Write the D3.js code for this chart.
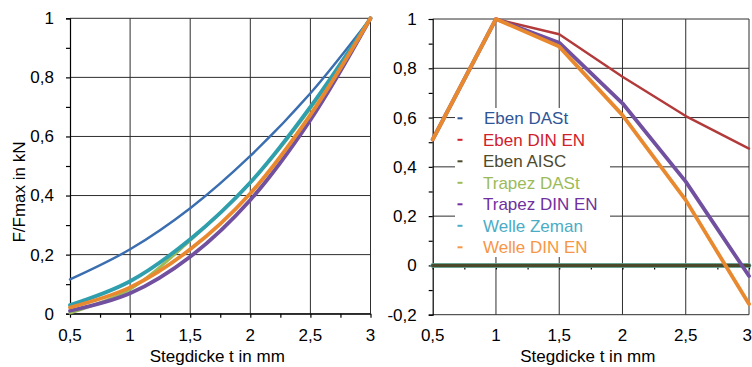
<!DOCTYPE html>
<html><head><meta charset="utf-8">
<script src="https://cdn.jsdelivr.net/npm/d3@7"></script>
<style>
html,body{margin:0;padding:0;background:#fff;}
svg{display:block;font-family:"Liberation Sans",Arial,sans-serif;}
</style></head>
<body><svg id="c" width="752" height="367"></svg>
<script>
// ---- data ----
const thickness = [0.5, 1, 1.5, 2, 2.5, 3];
const xTickLabels = ["0,5", "1", "1,5", "2", "2,5", "3"];
const leftYTicks = [0, 0.2, 0.4, 0.6, 0.8, 1];
const rightYTicks = [-0.2, 0, 0.2, 0.4, 0.6, 0.8, 1];
const seriesNames = ["Eben DASt", "Eben DIN EN", "Eben AISC", "Trapez DASt", "Trapez DIN EN", "Welle Zeman", "Welle DIN EN"];
const lineColors = ["#3a6eb0", "#b23a3a", "#4a4a2a", "#9bbb59", "#7150a0", "#2f9fae", "#e9892f"];
const legendColors = ["#2f5597", "#d0202e", "#4d4a2e", "#9bbb59", "#7030a0", "#4bacc6", "#f79646"];

// left chart (normalized force)
const leftEbenDASt    = [0.116, 0.218, 0.357, 0.534, 0.746, 1];
const leftTrapezDASt  = [0.002, 0.083, 0.248, 0.443, 0.695, 1];
const leftTrapezDINEN = [0.010, 0.069, 0.193, 0.385, 0.656, 1];
const leftWelleZeman  = [0.029, 0.110, 0.252, 0.444, 0.700, 1];
const leftWelleDINEN  = [0.021, 0.089, 0.218, 0.407, 0.673, 1];

// right chart
const rightEbenDASt    = [0, 0, 0, 0, 0, 0];
const rightTrapezDASt  = [0, 0, 0, 0, 0, 0];
const rightWelleZeman  = [0, 0, 0, 0, 0, 0];
const rightEbenAISC    = [0, 0, 0, 0, 0, 0];
const rightEbenDINEN   = [0.511, 1, 0.938, 0.766, 0.606, 0.474];
const rightTrapezDINEN = [0.511, 1, 0.904, 0.658, 0.340, -0.043];
const rightWelleDINEN  = [0.511, 1, 0.888, 0.610, 0.265, -0.157];

const svg = d3.select("#c");
const FS = 17;
const fmt = v => String(+v.toFixed(2)).replace(".", ",");
const grid = "#2e2e2e";

function chart(opt) {
  const g = svg.append("g");
  const x = d3.scaleLinear().domain([0.5, 3]).range(opt.xr);
  const y = d3.scaleLinear().domain(opt.yd).range(opt.yr);
  const minorY = d3.range(Math.round(opt.yd[0]*10), Math.round(opt.yd[1]*10)+1).map(v => v/10);
  const minorX = d3.range(0, 11).map(i => 0.5 + i*0.25);

  // gridlines
  g.append("g").selectAll("line").data(opt.yTicks).join("line")
    .attr("x1", x(0.5)).attr("x2", x(3)).attr("y1", d => y(d)).attr("y2", d => y(d))
    .attr("stroke", grid).attr("stroke-width", 1);
  g.append("g").selectAll("line").data(thickness.slice(1)).join("line")
    .attr("x1", d => x(d)).attr("x2", d => x(d)).attr("y1", y(opt.yd[0])).attr("y2", y(opt.yd[1]))
    .attr("stroke", grid).attr("stroke-width", 1);

  // y axis (minor + major outward ticks)
  const ya = g.append("g").attr("transform", `translate(${x(0.5)},0)`)
    .call(d3.axisLeft(y).tickValues(minorY).tickSize(4).tickFormat(""));
  ya.selectAll("path,line").attr("stroke", "#000").attr("stroke-width", 1.2);
  g.append("g").selectAll("text").data(opt.yTicks).join("text")
    .attr("x", x(0.5) - 16).attr("y", d => y(d)).attr("dy", "0.35em")
    .attr("text-anchor", "end").attr("font-size", FS).attr("fill", "#000")
    .text(fmt);

  // x axis
  const xa = g.append("g").attr("transform", `translate(0,${y(opt.xAxisAt)})`)
    .call(d3.axisBottom(x).tickValues(minorX).tickSize(4).tickFormat("").tickSizeOuter(0));
  xa.selectAll("path,line").attr("stroke", "#000").attr("stroke-width", 1.2);
  g.append("g").selectAll("text").data(thickness).join("text")
    .attr("x", d => (opt.clipLast && d === 3) ? 752 : x(d)).attr("y", 341)
    .attr("text-anchor", d => (opt.clipLast && d === 3) ? "end" : "middle")
    .attr("font-size", FS).attr("fill", "#000")
    .text((d, i) => xTickLabels[i]);
  g.append("text").attr("x", (opt.xr[0] + opt.xr[1]) / 2 - 3).attr("y", 362)
    .attr("text-anchor", "middle").attr("font-size", FS).text("Stegdicke t in mm");

  // lines
  const line = d3.line().x((d, i) => x(thickness[i])).y(d => y(d)).curve(opt.curve);
  opt.series.forEach(s => {
    g.append("path").datum(s.v).attr("d", line).attr("fill", "none")
      .attr("stroke", lineColors[s.c]).attr("stroke-width", s.w)
      .attr("stroke-linejoin", "round").attr("stroke-linecap", "round");
  });
  return {g, x, y};
}

// left chart
chart({
  xr: [70, 370.5], yd: [0, 1], yr: [313.7, 18.3], yTicks: leftYTicks, xAxisAt: 0,
  curve: d3.curveCatmullRom,
  series: [
    {v: leftEbenDASt, c: 0, w: 2.4},
    {v: leftTrapezDASt, c: 3, w: 3},
    {v: leftTrapezDINEN, c: 4, w: 3.8},
    {v: leftWelleZeman, c: 5, w: 3.8},
    {v: leftWelleDINEN, c: 6, w: 3.8}
  ]
});
svg.append("text").attr("transform", "translate(25,192) rotate(-90)")
  .attr("text-anchor", "middle").attr("font-size", FS).text("F/Fmax in kN");

// right chart
chart({
  xr: [432.7, 749], yd: [-0.2, 1], yr: [314.7, 19], yTicks: rightYTicks, xAxisAt: 0,
  curve: d3.curveLinear, clipLast: true,
  series: [
    {v: rightWelleZeman, c: 5, w: 4.5},
    {v: rightTrapezDASt, c: 3, w: 4},
    {v: rightEbenDASt, c: 0, w: 3.5},
    {v: rightEbenAISC, c: 2, w: 3},
    {v: rightEbenDINEN, c: 1, w: 2.4},
    {v: rightTrapezDINEN, c: 4, w: 3.8},
    {v: rightWelleDINEN, c: 6, w: 3.8}
  ]
});

// legend
const lg = svg.append("g");
lg.append("rect").attr("x", 455).attr("y", 108).attr("width", 155).attr("height", 149).attr("fill", "#fff");
seriesNames.forEach((n, i) => {
  const cy = 118.3 + i * 21.5;
  lg.append("line").attr("x1", 457.5).attr("x2", 462.5).attr("y1", cy).attr("y2", cy)
    .attr("stroke", legendColors[i]).attr("stroke-width", 2);
  lg.append("text").attr("x", i === 0 ? 484 : 483).attr("y", cy).attr("dy", "0.35em")
    .attr("font-size", FS).attr("fill", legendColors[i]).text(n);
});
</script></body></html>
